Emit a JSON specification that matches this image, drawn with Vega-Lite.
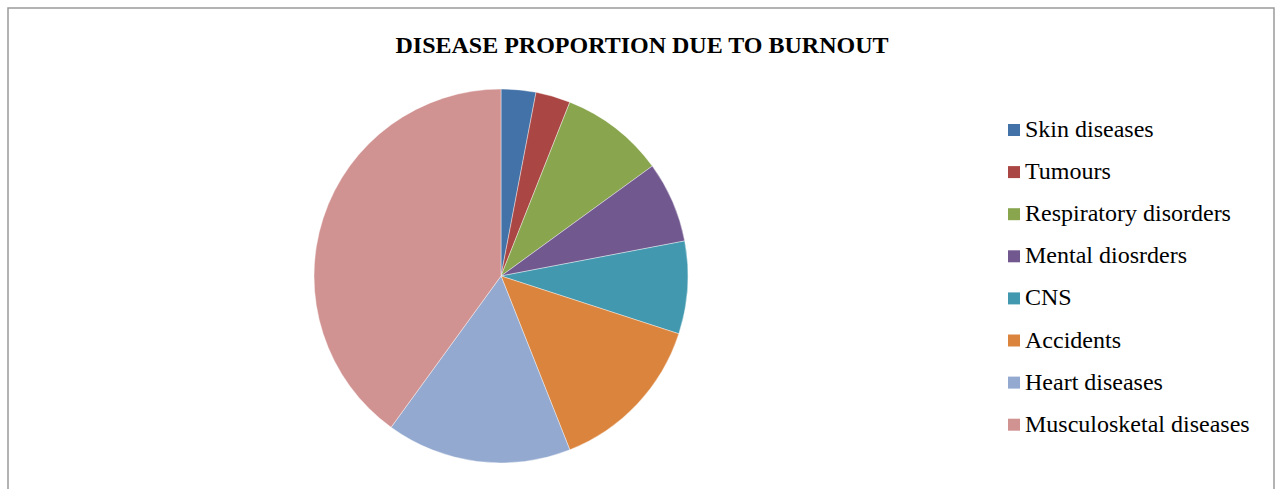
{
  "$schema": "https://vega.github.io/schema/vega-lite/v6.json",
  "autosize": {"type": "none"},
  "width": 1266,
  "height": 489,
  "padding": {"left": 8, "top": 8, "right": 4, "bottom": 0},
  "background": "#ffffff",
  "view": {"stroke": "#9a9a9a", "strokeWidth": 1.5},
  "config": {
    "view": {"stroke": "#9a9a9a", "strokeWidth": 1.5},
    "font": "Liberation Serif",
    "legend": {"labelFont": "Liberation Serif", "labelFontSize": 24, "labelColor": "#000000"}
  },
  "title": {
    "text": "DISEASE PROPORTION DUE TO BURNOUT",
    "font": "Liberation Serif",
    "fontSize": 24,
    "fontWeight": "bold",
    "color": "#000000",
    "anchor": "middle",
    "frame": "group",
    "baseline": "alphabetic",
    "offset": -69,
    "dx": 1
  },
  "data": {
    "values": [
      {"disease": "Skin diseases", "value": 3, "order": 1},
      {"disease": "Tumours", "value": 3, "order": 2},
      {"disease": "Respiratory disorders", "value": 9, "order": 3},
      {"disease": "Mental diosrders", "value": 7, "order": 4},
      {"disease": "CNS", "value": 8, "order": 5},
      {"disease": "Accidents", "value": 14, "order": 6},
      {"disease": "Heart diseases", "value": 16, "order": 7},
      {"disease": "Musculosketal diseases", "value": 40, "order": 8}
    ]
  },
  "mark": {"type": "arc", "outerRadius": 187, "x": 493, "y": 268, "stroke": "#ffffff", "strokeWidth": 0.4},
  "encoding": {
    "theta": {"field": "value", "type": "quantitative", "stack": true},
    "order": {"field": "order", "type": "quantitative", "sort": "ascending"},
    "color": {
      "field": "disease",
      "type": "nominal",
      "sort": null,
      "scale": {
        "domain": ["Skin diseases", "Tumours", "Respiratory disorders", "Mental diosrders", "CNS", "Accidents", "Heart diseases", "Musculosketal diseases"],
        "range": ["#4372A8", "#AA4643", "#89A54E", "#71588F", "#4198AF", "#DB843D", "#93A9CF", "#D19392"]
      },
      "legend": {
        "title": null,
        "orient": "none",
        "legendX": 994,
        "legendY": 110,
        "padding": 0,
        "symbolType": "square",
        "symbolSize": 144,
        "symbolStrokeWidth": 0,
        "labelFont": "Liberation Serif",
        "labelFontSize": 24,
        "labelColor": "#000000",
        "labelOffset": -1,
        "labelLimit": 400,
        "rowPadding": 18.1
      }
    }
  }
}
